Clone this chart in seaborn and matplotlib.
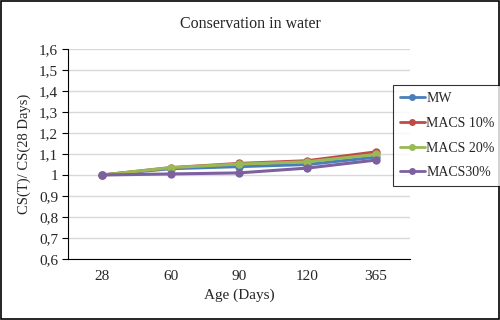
import matplotlib
matplotlib.use("Agg")
import matplotlib.pyplot as plt
import seaborn as sns
import pandas as pd
import numpy as np
from matplotlib.lines import Line2D

ages = ["28", "60", "90", "120", "365"]
mw = [1.0, 1.030, 1.040, 1.050, 1.085]
macs10 = [1.0, 1.035, 1.055, 1.068, 1.110]
macs20 = [1.0, 1.035, 1.052, 1.063, 1.098]
macs30 = [1.0, 1.005, 1.010, 1.033, 1.071]
series_names = ["MW", "MACS 10%", "MACS 20%", "MACS30%"]
colors = ["#4A7EBB", "#BE4B48", "#98B954", "#7D60A0"]
ytick_labels = ["0,6", "0,7", "0,8", "0,9", "1", "1,1", "1,2", "1,3", "1,4", "1,5", "1,6"]

sns.set_theme(style="white")
plt.rcParams['font.family'] = ['Liberation Serif', 'DejaVu Serif']

rows = []
for name, vals in zip(series_names, [mw, macs10, macs20, macs30]):
    for i, (a, v) in enumerate(zip(ages, vals)):
        rows.append({"Age": a, "idx": i, "value": v, "series": name})
df = pd.DataFrame(rows)

fig = plt.figure(figsize=(5, 3.2), dpi=100)
ax = fig.add_axes([68/500, 1 - 259/320, (410-68)/500, (259-49)/320])

sns.lineplot(data=df, x="idx", y="value", hue="series", palette=colors,
             marker="o", markersize=6, markeredgewidth=0, linewidth=2.2,
             ax=ax, legend=False, sort=False)

ax.set_xlim(-0.5, 4.5)
ax.set_ylim(0.6, 1.6)
yt = np.round(np.arange(0.6, 1.61, 0.1), 1)
ax.set_yticks(yt)
ax.set_yticklabels(ytick_labels, fontsize=11)
ax.set_xticks(range(len(ages)))
ax.set_xticklabels(ages, fontsize=11)
ax.set_xticks(np.arange(-0.5, 5, 1), minor=True)
ax.tick_params(axis="x", which="major", length=0, pad=8)
ax.tick_params(axis="x", which="minor", length=4, direction="out", color="black", width=0.8)
ax.tick_params(axis="y", length=4, direction="out", color="black", width=0.8, left=True, pad=3)
ax.yaxis.grid(True, color="#D9D9D9", linewidth=1)
ax.set_axisbelow(True)
for s in ["top", "right"]:
    ax.spines[s].set_visible(False)
for s in ["left", "bottom"]:
    ax.spines[s].set_color("black")
    ax.spines[s].set_linewidth(0.8)
ax.set_xlabel("Age (Days)", fontsize=11, labelpad=4)
ax.set_ylabel("CS(T)/ CS(28 Days)", fontsize=10.5, labelpad=6)
fig.text(0.5, 1 - 24/320, "Conservation in water", ha="center", va="center", fontsize=11.5)

handles = [Line2D([0], [0], color=c, marker="o", markersize=5, linewidth=2, markeredgewidth=0) for c in colors]
leg = fig.legend(handles, series_names, loc="upper left",
                 bbox_to_anchor=(393/500, 1 - 85/320), frameon=True, fontsize=10,
                 handlelength=1.8, handletextpad=0.1, borderpad=0.5, labelspacing=0.85,
                 fancybox=False, borderaxespad=0)
leg.get_frame().set_edgecolor("black")
leg.get_frame().set_linewidth(0.8)

fig.patches.append(plt.Rectangle((0.002, 0.003), 0.995, 0.994, transform=fig.transFigure,
                                  fill=False, edgecolor="black", linewidth=1.2))
fig.savefig("out.png", dpi=100)
